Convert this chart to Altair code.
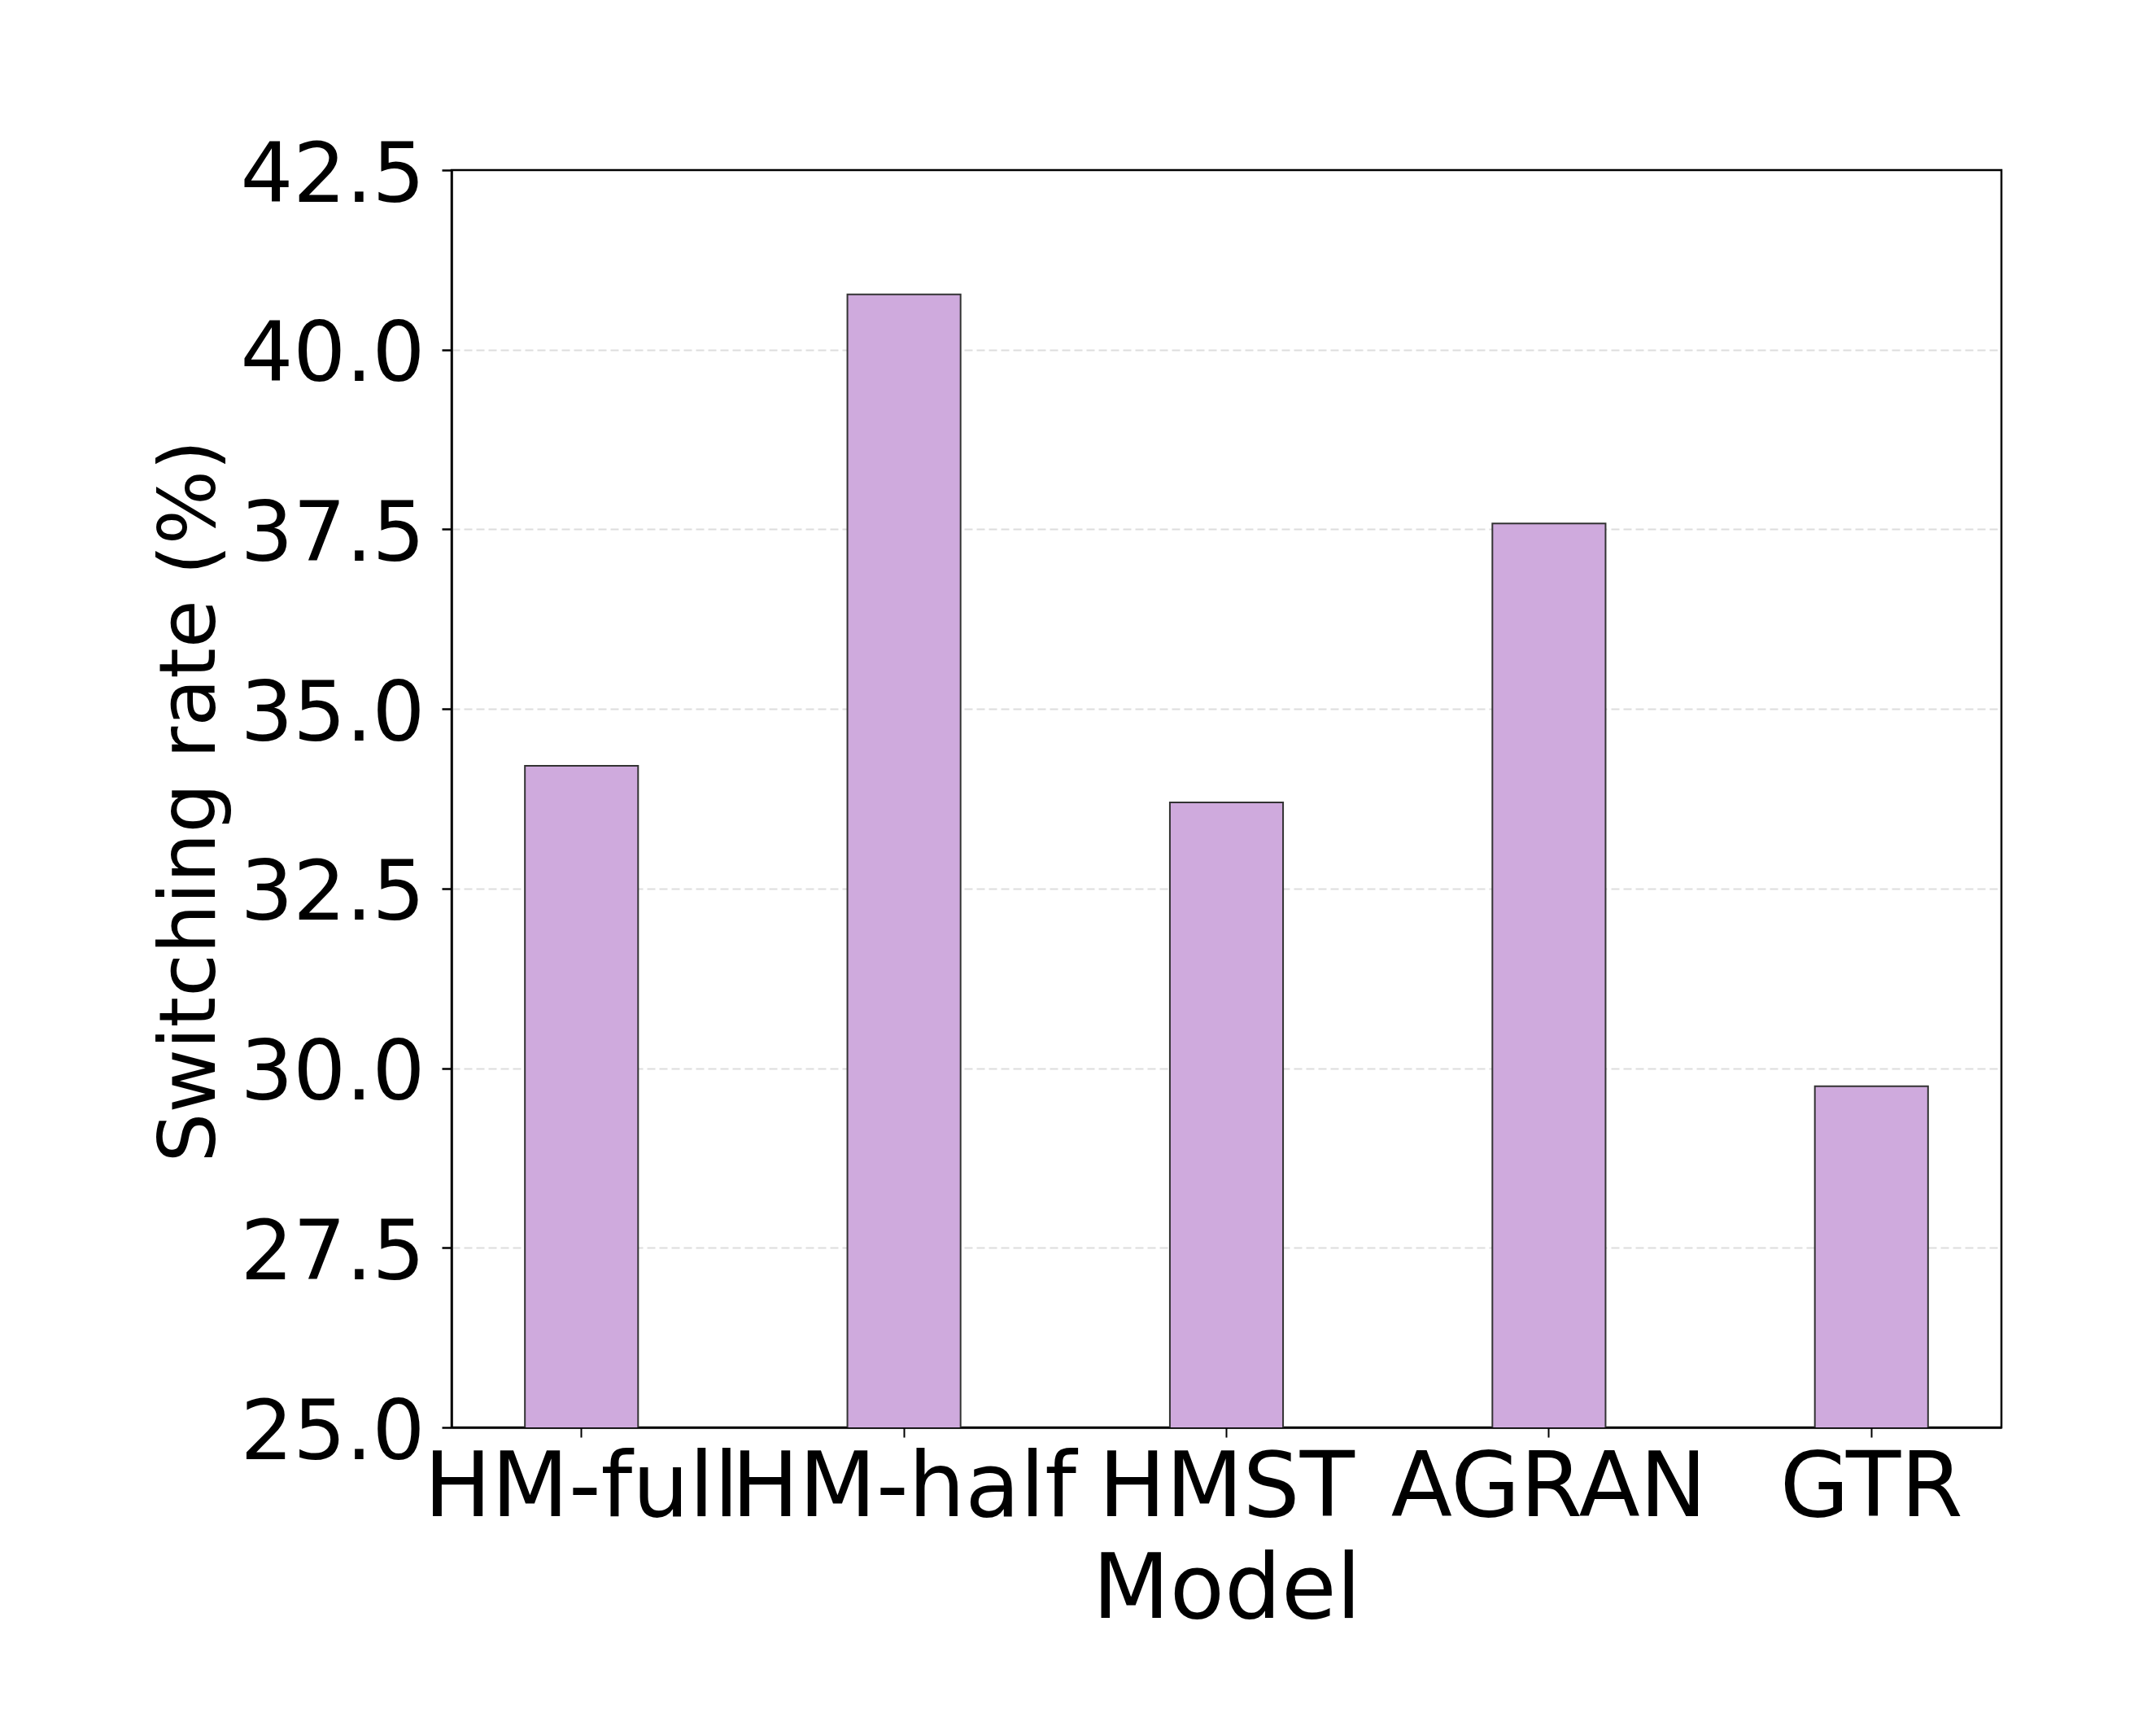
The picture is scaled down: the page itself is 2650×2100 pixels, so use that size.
import altair as alt
import pandas as pd

models = ["HM-full", "HM-half", "HMST", "AGRAN", "GTR"]
rates = [34.21, 40.77, 33.70, 37.58, 29.75]
y_ticks = [25.0, 27.5, 30.0, 32.5, 35.0, 37.5, 40.0, 42.5]

df = pd.DataFrame({"Model": models, "Rate": rates})

FONT = "DejaVu Sans"

bars = alt.Chart(df).mark_bar(
    color="#CFAADD", stroke="#333333", strokeWidth=2, clip=True
).encode(
    x=alt.X(
        "Model:N",
        sort=models,
        scale=alt.Scale(paddingInner=0.649, paddingOuter=0.2275),
        axis=alt.Axis(
            title="Model",
            labelAngle=0,
            labelFont=FONT,
            labelFontSize=110,
            labelColor="black",
            labelBaseline="alphabetic",
            labelPadding=96,
            labelOverlap=False,
            labelLimit=2000,
            tickSize=12,
            tickWidth=2,
            tickColor="black",
            domainColor="black",
            domainWidth=2.5,
            titleFont=FONT,
            titleFontSize=110,
            titleFontWeight="normal",
            titleColor="black",
            titleBaseline="alphabetic",
            titleY=233,
            grid=False,
        ),
    ),
    y=alt.Y(
        "Rate:Q",
        scale=alt.Scale(domain=[25, 42.5], nice=False, zero=False),
        axis=alt.Axis(
            values=y_ticks,
            format=".1f",
            title="Switching rate (%)",
            labelFont=FONT,
            labelFontSize=102,
            labelColor="black",
            labelBaseline="alphabetic",
            labelOffset=38,
            labelPadding=21,
            labelOverlap=False,
            labelLimit=2000,
            tickSize=12,
            tickWidth=2.5,
            tickColor="black",
            domainColor="black",
            domainWidth=2.5,
            grid=True,
            gridColor="#dddddd",
            gridDash=[10, 5],
            gridWidth=2,
            gridOpacity=alt.condition(
                "datum.value >= 42.5 || datum.value <= 25", alt.value(0), alt.value(1)
            ),
            titleFont=FONT,
            titleFontSize=96,
            titleFontWeight="normal",
            titleColor="black",
            titleBaseline="alphabetic",
            titleX=-292,
            titleY=775,
            titleLimit=3000,
        ),
    ),
)

chart = bars.properties(
    width=1905,
    height=1545,
    background="white",
    autosize=alt.AutoSizeParams(type="none"),
    padding={"left": 547, "top": 201, "right": 150, "bottom": 300},
).configure_view(stroke="black", strokeWidth=2.5)

chart.save("out.html", embed_options={"renderer": "svg", "actions": False})
